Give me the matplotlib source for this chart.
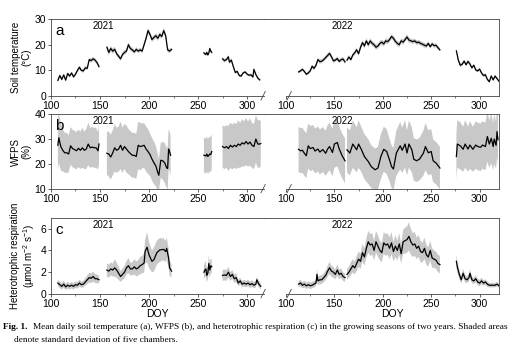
"""
soil temperature, WFPS and Rh over two growing seasons
broken DOY axis, one block per year
"""

import numpy as np
import matplotlib.pyplot as plt
from matplotlib.lines import Line2D

nan = np.nan

# ---- soil temperature (deg C), 2021 ----
t21_doy = [107, 109, 111, 113, 115, 117, 119, 121, 123, 125, 127, 129, 131, 133, 135, 137, 139, 141, 143, 145, 147, 149, nan,
           157, 159, 161, 163, 165, 167, 169, 171, 173, 175, 177, 179, 181, 183, 185, 187, 189, 191, 193, 195, 197, 199, 201,
           203, 205, 207, 209, 211, 213, 215, 217, 219, 221, 223, nan,
           256, 257, 258, 259, 260, 261, 262, 263, 264, nan,
           275, 277, 279, 281, 282, 284, 286, 288, 290, 292, 294, 296, 298, 300, 302, 304, 306, 307, 309, 311, 313]
t21_mean = [6.1, 8.0, 6.5, 8.2, 6.2, 8.8, 7.8, 9.0, 7.5, 8.5, 10.0, 11.2, 10.0, 9.8, 11.0, 10.8, 14.2, 13.8, 14.5, 14.0, 13.0, 11.5, nan,
            19.0, 17.0, 18.5, 17.5, 18.2, 16.5, 15.5, 14.5, 16.2, 17.0, 17.5, 20.0, 18.5, 18.0, 17.2, 18.2, 17.5, 18.0, 17.5, 20.0, 22.5, 25.5, 24.0,
            22.0, 22.8, 23.5, 22.5, 24.0, 23.2, 25.5, 23.5, 18.0, 17.5, 18.2, nan,
            16.8, 16.5, 16.2, 17.0, 16.0, 16.8, 18.5, 17.5, 17.0, nan,
            14.5, 13.8, 14.2, 15.3, 13.2, 14.0, 11.5, 9.2, 9.6, 8.0, 7.8, 9.0, 9.4, 8.6, 8.1, 8.3, 7.4, 10.4, 8.4, 7.0, 6.3]
t21_sd = [0.6, 0.6, 0.6, 0.6, 0.6, 0.6, 0.6, 0.6, 0.6, 0.6, 0.7, 0.7, 0.7, 0.7, 0.7, 0.7, 0.8, 0.8, 0.8, 0.8, 0.8, 0.8, nan,
          1.2, 1.2, 1.1, 1.0, 1.0, 0.9, 0.9, 0.8, 0.8, 0.9, 0.9, 1.0, 0.9, 0.9, 0.8, 0.8, 0.8, 0.8, 0.8, 0.9, 1.0, 1.1, 1.0,
          1.0, 1.0, 1.0, 1.0, 1.0, 1.0, 1.1, 1.0, 0.9, 0.8, 0.8, nan,
          0.6, 0.6, 0.6, 0.6, 0.6, 0.6, 0.7, 0.6, 0.6, nan,
          0.7, 0.7, 0.7, 0.7, 0.7, 0.7, 0.6, 0.6, 0.6, 0.5, 0.5, 0.5, 0.5, 0.5, 0.5, 0.5, 0.5, 0.6, 0.5, 0.5, 0.5]

# ---- soil temperature (deg C), 2022 ----
t22_doy = [113, 115, 117, 119, 121, 123, 125, 127, 129, 131, 133, 135, 137, 139, 141, 143, 145, 147, 149, 151, 153, 155, 157, 159, 161, nan,
           163, 165, 167, 169, 171, 173, 175, 177, 179, 181, 183, 185, 187, 189, 191, 193, 195, 197, 199, 201, 203, 205, 207, 209,
           211, 213, 215, 217, 219, 221, 223, 225, 227, 229, 231, 233, 235, 237, 239, 241, 243, 245, 247, 249, 251, 253, 255, 257, 259, nan,
           276, 278, 280, 282, 284, 286, 288, 290, 292, 294, 296, 298, 300, 302, 304, 306, 308, 310, 312, 314, 316, 318, 320]
t22_mean = [9.4, 9.8, 10.4, 9.6, 8.5, 9.0, 9.8, 11.6, 10.8, 12.0, 14.2, 13.4, 13.6, 14.2, 15.0, 15.8, 16.6, 15.3, 13.7, 14.0, 14.6, 13.5, 14.2, 14.4, 13.3, nan,
            14.0, 15.2, 14.2, 16.0, 16.8, 18.0, 16.5, 19.0, 20.8, 19.5, 21.5, 20.0, 21.5, 20.5, 20.0, 19.0, 19.5, 20.5, 21.0, 20.3, 21.5, 21.2, 22.0, 23.2,
            22.5, 21.3, 20.5, 20.0, 21.5, 21.0, 22.0, 23.0, 21.8, 21.5, 21.2, 21.5, 20.8, 21.0, 20.5, 20.2, 19.8, 19.5, 20.5, 19.2, 20.3, 19.6, 19.8, 18.8, 18.0, nan,
            17.6, 14.0, 12.0, 12.4, 13.6, 12.2, 13.5, 12.5, 11.0, 12.0, 10.2, 9.8, 10.5, 9.0, 8.0, 8.3, 6.5, 5.6, 7.8, 6.3, 7.8, 6.8, 5.8]
t22_sd = [0.6, 0.6, 0.6, 0.6, 0.6, 0.6, 0.7, 0.7, 0.7, 0.7, 0.8, 0.8, 0.8, 0.8, 0.8, 0.9, 0.9, 0.9, 0.8, 0.8, 0.8, 0.8, 0.8, 0.8, 0.8, nan,
          0.8, 0.8, 0.8, 0.9, 0.9, 0.9, 0.9, 1.0, 1.0, 1.0, 1.0, 1.0, 1.0, 1.0, 1.0, 1.0, 1.0, 1.0, 1.0, 1.0, 1.0, 1.0, 1.0, 1.0,
          1.0, 1.0, 1.0, 1.0, 1.0, 1.0, 1.0, 1.0, 1.0, 0.9, 0.9, 0.9, 0.9, 0.9, 0.9, 0.9, 0.9, 0.9, 0.9, 0.8, 0.8, 0.8, 0.8, 0.8, 0.8, nan,
          0.8, 0.7, 0.7, 0.7, 0.7, 0.7, 0.7, 0.7, 0.6, 0.6, 0.6, 0.6, 0.6, 0.6, 0.6, 0.6, 0.5, 0.5, 0.6, 0.5, 0.6, 0.5, 0.5]

# ---- WFPS (%), 2021 ----
w21_doy = [107, 108, 110, 112, 114, 116, 118, 120, 122, 124, 126, 128, 130, 132, 134, 136, 138, 140, 142, 144, 146, 148, 149, nan,
           157, 159, 161, 163, 165, 167, 169, 171, 173, 175, 177, 179, 181, 183, 185, 187, 189, 191, 193, 195, 197, 199, 201,
           203, 205, 207, 209, 210, 212, 214, 216, 218, 219, 220, 221, 222, nan,
           256, 257, 258, 259, 260, 261, 262, 263, 264, nan,
           275, 277, 279, 281, 283, 285, 287, 289, 291, 293, 295, 297, 299, 301, 303, 305, 307, 309, 311, 313, 314]
w21_mean = [27.5, 30.5, 27.0, 25.5, 24.5, 24.5, 24.0, 27.3, 26.2, 25.8, 25.3, 26.3, 25.5, 26.5, 25.5, 26.0, 28.0, 26.5, 26.8, 26.5, 26.5, 25.3, 28.0, nan,
            24.3, 24.0, 22.8, 24.5, 26.5, 25.5, 26.0, 27.5, 25.5, 27.0, 26.0, 25.0, 24.2, 23.5, 23.5, 23.0, 27.5, 27.0, 27.2, 27.5, 26.0, 25.0, 23.8,
            22.0, 20.5, 19.2, 16.5, 15.5, 21.5, 21.3, 20.5, 18.5, 18.2, 26.0, 25.0, 23.5, nan,
            23.5, 23.4, 23.2, 24.0, 23.0, 23.5, 24.0, 23.8, 25.0, nan,
            27.0, 26.5, 27.0, 26.2, 27.5, 26.8, 27.5, 27.0, 28.0, 27.5, 28.5, 28.0, 29.0, 28.0, 28.8, 27.5, 27.0, 30.0, 28.0, 28.0, 28.2]
w21_sd = [10.0, 10.0, 9.5, 8.5, 8.0, 8.0, 7.5, 7.5, 7.5, 7.5, 7.5, 7.5, 7.5, 8.0, 7.5, 8.0, 8.5, 8.0, 8.0, 8.0, 8.0, 7.5, 8.0, nan,
          8.5, 9.0, 9.0, 9.0, 9.5, 9.0, 9.0, 9.5, 9.0, 9.0, 9.5, 9.0, 9.0, 9.0, 9.0, 9.0, 9.5, 9.5, 9.0, 9.0, 9.0, 9.0, 8.5,
          8.5, 8.5, 8.0, 7.5, 6.5, 7.0, 7.5, 8.0, 8.0, 8.5, 8.0, 8.0, 8.0, nan,
          7.0, 7.0, 7.0, 7.0, 7.0, 7.0, 7.0, 7.0, 7.0, nan,
          8.5, 8.5, 8.5, 9.0, 9.0, 9.0, 9.0, 9.0, 9.5, 9.0, 9.5, 9.0, 9.5, 9.0, 9.5, 9.0, 9.0, 9.5, 9.5, 9.5, 9.0]

# ---- WFPS (%), 2022 ----
w22_doy = [113, 115, 117, 119, 121, 123, 125, 128, 130, 133, 135, 138, 141, 143, 145, 148, 150, 153, 155, 158, 161, nan,
           163, 166, 169, 173, 175, 178, 181, 185, 188, 192, 195, 198, 201, 204, 207, 209, 211, 214, 218, 220, 223, 225, 227,
           230, 232, 235, 238, 242, 244, 247, 250, 252, 255, 259, nan,
           276, 277, 280, 283, 285, 288, 290, 293, 296, 298, 301, 303, 306, 308, 310, 312, 314, 315, 317, 318, 319]
w22_mean = [25.9, 25.3, 25.5, 24.3, 23.3, 27.3, 26.2, 26.6, 25.2, 26.0, 24.8, 25.8, 24.3, 26.0, 27.0, 24.6, 28.0, 28.6, 26.0, 23.3, 21.3, nan,
            25.7, 24.4, 28.0, 25.7, 28.0, 25.7, 23.0, 21.0, 19.0, 17.7, 18.4, 23.0, 25.9, 25.0, 21.6, 19.0, 18.0, 24.4, 27.3,
            25.5, 28.0, 24.4, 28.0, 25.7, 21.9, 21.3, 22.0, 24.4, 27.0, 24.5, 25.0, 21.3, 20.4, 18.4, nan,
            23.0, 28.0, 27.3, 25.9, 28.0, 26.0, 27.6, 25.9, 27.6, 27.0, 26.7, 27.6, 27.0, 31.0, 28.0, 30.3, 27.0, 30.0, 27.5, 33.0, 29.7]
w22_sd = [9.0, 9.0, 9.0, 9.0, 9.0, 9.0, 9.0, 9.0, 9.0, 9.0, 9.0, 9.0, 9.0, 9.5, 9.5, 9.5, 9.5, 9.5, 9.0, 9.0, 9.0, nan,
          9.0, 9.0, 9.5, 9.0, 9.5, 9.0, 9.0, 9.0, 8.5, 8.5, 8.5, 9.0, 9.0, 9.0, 8.5, 8.5, 8.5, 9.0, 9.5,
          9.0, 9.5, 9.0, 9.5, 9.0, 8.5, 8.5, 8.5, 9.0, 9.5, 9.0, 9.0, 8.5, 8.5, 8.5, nan,
          9.0, 9.5, 9.5, 9.0, 9.5, 9.0, 9.5, 9.0, 9.5, 9.5, 9.5, 9.5, 9.5, 10.0, 9.5, 10.0, 9.5, 10.0, 9.5, 10.0, 10.0]

# ---- heterotrophic respiration (umol m-2 s-1), 2021 ----
r21_doy = [107, 109, 111, 113, 115, 117, 119, 121, 123, 125, 127, 129, 131, 133, 135, 137, 139, 141, 143, 145, 147, 149, nan,
           157, 159, 161, 163, 165, 167, 169, 171, 173, 175, 177, 179, 181, 183, 185, 187, 189, 191, 193, 195, 196, 198,
           200, 203, 205, 208, 211, 215, 217, 218, 220, 221, 223, nan,
           256, 257, 258, 259, 260, 261, 262, 263, 264, nan,
           275, 277, 279, 281, 283, 285, 287, 289, 291, 293, 295, 297, 299, 301, 303, 305, 307, 309, 310, 312, 314]
r21_mean = [1.0, 0.85, 0.7, 0.9, 0.65, 0.8, 0.7, 0.8, 0.7, 0.85, 0.8, 1.0, 0.85, 0.9, 1.1, 1.3, 1.5, 1.45, 1.6, 1.4, 1.4, 1.3, nan,
            2.2, 2.1, 2.3, 2.2, 2.4, 2.2, 1.9, 1.6, 1.8, 2.0, 2.4, 2.6, 2.3, 2.3, 2.5, 2.3, 2.4, 2.6, 2.7, 2.85, 3.9, 4.3,
            3.6, 3.0, 3.15, 3.8, 4.05, 4.1, 3.9, 4.2, 3.3, 2.4, 2.1, nan,
            2.0, 2.2, 2.3, 1.7, 1.9, 2.8, 2.2, 2.6, 2.5, nan,
            1.7, 1.75, 1.7, 2.0, 1.6, 1.8, 1.4, 1.5, 1.0, 1.2, 0.9, 1.0, 0.9, 1.0, 0.85, 0.95, 0.8, 0.9, 1.3, 0.9, 0.7]
r21_sd = [0.3, 0.3, 0.3, 0.3, 0.3, 0.3, 0.3, 0.3, 0.3, 0.3, 0.3, 0.3, 0.3, 0.3, 0.35, 0.4, 0.45, 0.45, 0.45, 0.4, 0.4, 0.35, nan,
          0.6, 0.6, 0.6, 0.6, 0.8, 0.7, 0.6, 0.5, 0.5, 0.6, 0.6, 0.7, 0.6, 0.6, 0.7, 0.7, 0.7, 0.8, 0.8, 0.9, 1.1, 1.4,
          1.2, 1.0, 1.1, 1.1, 1.1, 1.0, 1.0, 1.0, 0.9, 0.7, 0.6, nan,
          0.6, 0.7, 0.7, 0.6, 0.6, 0.8, 0.7, 0.7, 0.6, nan,
          0.5, 0.5, 0.5, 0.5, 0.4, 0.4, 0.4, 0.4, 0.3, 0.3, 0.3, 0.3, 0.3, 0.3, 0.3, 0.3, 0.3, 0.3, 0.3, 0.3, 0.3]

# ---- heterotrophic respiration (umol m-2 s-1), 2022 ----
r22_doy = [113, 115, 117, 119, 121, 123, 125, 127, 129, 131, 132, 133, 135, 137, 139, 141, 143, 145, 147, 149, 151, 153, 155, 157, 159, 161, nan,
           163, 165, 167, 169, 171, 173, 175, 177, 179, 181, 183, 185, 187, 189, 191, 193, 195, 197, 199, 201, 203, 205, 207, 209,
           211, 213, 215, 217, 219, 221, 223, 225, 227, 229, 231, 233, 235, 237, 239, 241, 243, 245, 247, 249, 251, 253, 255, 257, 259, nan,
           276, 277, 279, 281, 283, 285, 287, 289, 290, 292, 294, 296, 298, 300, 302, 304, 306, 308, 310, 312, 314, 316, 318, 320]
r22_mean = [0.9, 1.0, 0.8, 0.9, 0.75, 0.85, 0.75, 0.8, 0.9, 1.0, 1.8, 1.2, 1.3, 1.3, 1.5, 1.7, 2.1, 2.4, 2.1, 2.0, 1.8, 2.2, 1.8, 1.9, 1.6, 1.5, nan,
            1.8, 2.0, 2.3, 2.6, 2.4, 2.8, 3.2, 3.0, 3.8, 3.4, 4.2, 4.8, 4.5, 4.6, 4.0, 4.8, 4.4, 4.0, 3.8, 4.7, 4.5, 4.6, 4.2, 4.7,
            3.9, 4.4, 4.0, 4.6, 3.7, 4.8, 4.9, 5.0, 5.3, 4.8, 4.5, 4.6, 4.2, 4.4, 3.9, 3.8, 4.2, 3.6, 3.4, 4.0, 3.3, 3.2, 3.1, 2.8, 2.7, nan,
            3.0, 2.5, 1.8, 1.3, 1.9, 1.4, 1.3, 1.5, 1.9, 1.3, 1.2, 1.4, 1.1, 1.0, 1.2, 1.0, 1.1, 0.9, 0.8, 0.8, 0.8, 0.8, 0.9, 0.75]
r22_sd = [0.3, 0.3, 0.3, 0.3, 0.3, 0.3, 0.3, 0.3, 0.3, 0.3, 0.5, 0.4, 0.4, 0.4, 0.4, 0.45, 0.5, 0.55, 0.5, 0.5, 0.45, 0.5, 0.45, 0.45, 0.4, 0.4, nan,
          0.5, 0.5, 0.6, 0.6, 0.6, 0.7, 0.7, 0.7, 0.8, 0.8, 0.9, 1.0, 1.0, 1.0, 0.9, 1.0, 1.0, 0.9, 0.9, 1.0, 1.0, 1.0, 1.0, 1.0,
          0.9, 1.0, 0.9, 1.0, 0.9, 1.1, 1.2, 1.2, 1.3, 1.2, 1.1, 1.1, 1.0, 1.0, 1.0, 0.9, 1.0, 0.9, 0.9, 0.9, 0.9, 0.8, 0.8, 0.8, 0.8, nan,
          0.6, 0.5, 0.4, 0.35, 0.4, 0.35, 0.3, 0.35, 0.4, 0.3, 0.3, 0.3, 0.3, 0.3, 0.3, 0.25, 0.25, 0.25, 0.2, 0.2, 0.2, 0.2, 0.2, 0.2]

panels = [
    ('a', 'Soil temperature\n(°C)', (0, 30), [0, 10, 20, 30],
     (t21_doy, t21_mean, t21_sd), (t22_doy, t22_mean, t22_sd)),
    ('b', 'WFPS\n(%)', (10, 40), [10, 20, 30, 40],
     (w21_doy, w21_mean, w21_sd), (w22_doy, w22_mean, w22_sd)),
    ('c', 'Heterotrophic respiration\n(μmol m$^{-2}$ s$^{-1}$)', (0, 7), [0, 2, 4, 6],
     (r21_doy, r21_mean, r21_sd), (r22_doy, r22_mean, r22_sd)),
]

plt.rcParams['font.family'] = ['Liberation Sans', 'DejaVu Sans']
plt.rcParams['mathtext.fontset'] = 'custom'
plt.rcParams['mathtext.rm'] = 'Liberation Sans'

fig = plt.figure(figsize=(5.15, 3.52), dpi=100)

rows = [(0.727, 0.219), (0.463, 0.213), (0.165, 0.216)]
spine_col = '#444444'


def draw_block(ax, data):
    doy, m, sd = [np.array(v, dtype=float) for v in data]
    ax.fill_between(doy, m - sd, m + sd, color='#c8c8c8', lw=0)
    ax.plot(doy, m, color='black', lw=0.9)


for (letter, ylab, ylim, yt, d21, d22), (b, h) in zip(panels, rows):
    axL = fig.add_axes([0.099, b, 0.414, h])
    axR = fig.add_axes([0.5553, b, 0.4136, h])
    draw_block(axL, d21)
    draw_block(axR, d22)
    axL.set_xlim(100, 317.5)
    axR.set_xlim(100, 320)
    for ax in (axL, axR):
        ax.set_ylim(*ylim)
        ax.set_xticks([100, 150, 200, 250, 300])
        ax.set_xticks([125, 175, 225, 275], minor=True)
        ax.tick_params(labelsize=7.5, direction='out', length=2.5, width=0.6,
                       colors=spine_col, labelcolor='black', pad=1)
        ax.tick_params(which='minor', direction='out', length=1.5, width=0.5, colors=spine_col)
        for s in ax.spines.values():
            s.set_linewidth(0.6)
            s.set_color(spine_col)
    axL.spines['right'].set_visible(False)
    axR.spines['left'].set_visible(False)
    axR.tick_params(left=False, labelleft=False)
    axL.set_yticks(yt)
    axL.set_ylabel(ylab, fontsize=7, labelpad=2, linespacing=1.1)

    # top border runs straight across the break
    top_y = b + h
    fig.add_artist(Line2D([0.099 + 0.414, 0.5553], [top_y, top_y],
                          transform=fig.transFigure, lw=0.6, color=spine_col))
    # break marks
    axL.plot([0.985, 1.005], [-0.05, 0.06], transform=axL.transAxes,
             color=spine_col, lw=0.6, clip_on=False)
    axR.plot([0.005, 0.025], [-0.05, 0.06], transform=axR.transAxes,
             color=spine_col, lw=0.6, clip_on=False)

    axL.text(0.02, 0.93, letter, transform=axL.transAxes, fontsize=11,
             va='top', ha='left')
    axL.text(153, ylim[1] - (ylim[1] - ylim[0]) * 0.03, '2021', fontsize=7,
             ha='center', va='top')
    axR.text(158, ylim[1] - (ylim[1] - ylim[0]) * 0.03, '2022', fontsize=7,
             ha='center', va='top')

    if letter == 'c':
        axL.set_xlabel('DOY', fontsize=7.5, labelpad=0)
        axR.set_xlabel('DOY', fontsize=7.5, labelpad=0)

# caption
fig.text(0.006, 0.072, 'Fig. 1.', fontsize=6.7, family='Liberation Serif',
         weight='bold', va='center')
fig.text(0.064, 0.072,
         'Mean daily soil temperature (a), WFPS (b), and heterotrophic respiration (c) '
         'in the growing seasons of two years. Shaded areas',
         fontsize=6.7, family='Liberation Serif', va='center')
fig.text(0.027, 0.035, 'denote standard deviation of five chambers.',
         fontsize=6.7, family='Liberation Serif', va='center')

fig.savefig('out.png', dpi=100)
